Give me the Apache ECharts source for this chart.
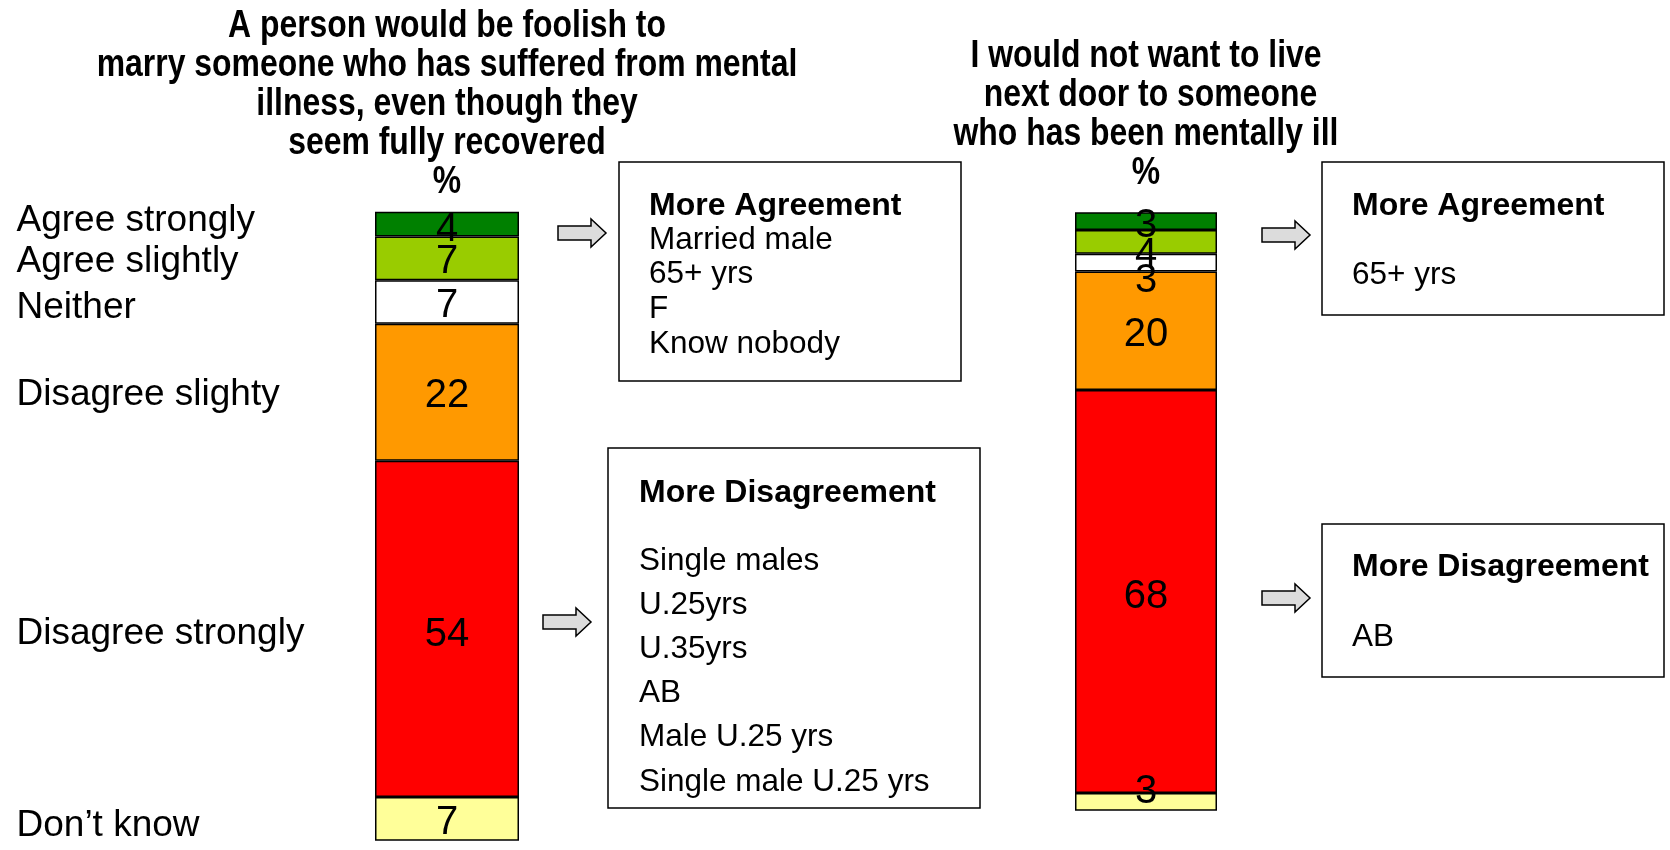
<!DOCTYPE html>
<html>
<head>
<meta charset="utf-8">
<script src="https://cdn.jsdelivr.net/npm/echarts@6/dist/echarts.min.js"></script>
<style>
  html, body { margin: 0; padding: 0; background: #fff; }
  #chart { width: 1670px; height: 850px; }
</style>
</head>
<body>
<div id="chart"></div>
<script>
// answer scale, top to bottom
const responses = ['Agree strongly', 'Agree slightly', 'Neither', 'Disagree slighty', 'Disagree strongly', 'Don\u2019t know']
const marryValues = [4, 7, 7, 22, 54, 7]
const neighbourValues = [3, 4, 3, 20, 68, 3]
const segmentColors = ['#008000', '#99cc00', '#ffffff', '#ff9900', '#ff0000', '#ffff99']

const marryTitle = ['A person would be foolish to', 'marry someone who has suffered from mental', 'illness, even though they', 'seem fully recovered', '%']
const neighbourTitle = ['I would not want to live', ' next door to someone', 'who has been mentally ill', '%']

const marryAgree = ['Married male', '65+ yrs', 'F', 'Know nobody']
const marryDisagree = ['Single males', 'U.25yrs', 'U.35yrs', 'AB', 'Male U.25 yrs', 'Single male U.25 yrs']
const neighbourAgree = ['65+ yrs']
const neighbourDisagree = ['AB']

// small label nudges where the original had them pushed apart
const marryNudge = [2, 0, 0, 0, 2, 0]
const neighbourNudge = [1, 9, 14, 0, 1, -14]
const rowNudge = [-3, 4, 6, 3, 5, 7]

const FONT = '"Liberation Sans", Arial, Helvetica, sans-serif'
const sum = arr => arr.reduce((a, b) => a + b, 0)

const chart = echarts.init(document.getElementById('chart'))

const stackSeries = (values, nudges, idx, stack) =>
  values.map((v, i) => ({
    name: responses[i],
    type: 'bar',
    stack: stack,
    xAxisIndex: idx,
    yAxisIndex: idx,
    barWidth: '100%',
    data: [v],
    itemStyle: { color: segmentColors[i], borderColor: '#000', borderWidth: 1.5 },
    label: {
      show: true,
      position: 'inside',
      color: '#000',
      fontFamily: FONT,
      fontSize: 40,
      offset: [0, 4 + nudges[i]]
    }
  }))

// midpoints of the first bar's segments, used to line up the answer labels
let run = 0
const rowMids = marryValues.map(v => { const m = run + v / 2; run += v; return m })

const rowLabelSeries = {
  type: 'scatter',
  xAxisIndex: 0,
  yAxisIndex: 0,
  symbolSize: 1,
  itemStyle: { color: '#000', opacity: 0 },
  data: rowMids.map((m, i) => ({
    value: [0, m],
    label: { offset: [0, rowNudge[i]] }
  })),
  label: {
    show: true,
    position: [-430, 0],
    align: 'left',
    verticalAlign: 'middle',
    color: '#000000',
    opacity: 1,
    textBorderWidth: 0,
    fontFamily: FONT,
    fontSize: 37,
    formatter: p => responses[p.dataIndex]
  },
  emphasis: { disabled: true },
  z: 5
}

const arrow = (x0, cy) => ({
  type: 'polygon',
  shape: {
    points: [[x0, cy - 7], [x0 + 33, cy - 7], [x0 + 33, cy - 14], [x0 + 48, cy],
      [x0 + 33, cy + 14], [x0 + 33, cy + 7], [x0, cy + 7]]
  },
  style: { fill: '#dcdcdc', stroke: '#000', lineWidth: 1.5 }
})

const box = (x, y, w, h) => ({
  type: 'rect',
  shape: { x: x, y: y, width: w, height: h },
  style: { fill: '#fff', stroke: '#000', lineWidth: 1.5 }
})

const text = (x, y, str, bold, size) => ({
  type: 'text',
  x: x,
  y: y,
  style: {
    text: str,
    font: (bold ? 'bold ' : '') + size + 'px ' + FONT,
    fill: '#000',
    textAlign: 'left',
    textVerticalAlign: 'middle'
  }
})

const titleText = (cx, top, lines) => ({
  type: 'text',
  x: cx,
  y: top,
  scaleX: 0.84,
  style: {
    text: lines.join('\n'),
    font: 'bold 38px ' + FONT,
    lineHeight: 39,
    fill: '#000',
    textAlign: 'center',
    textVerticalAlign: 'top'
  }
})

const graphics = [
  titleText(447, 7, marryTitle),
  titleText(1146, 37, neighbourTitle),

  arrow(558, 233),
  arrow(543, 622),
  arrow(1262, 235),
  arrow(1262, 598),

  box(619, 162, 342, 219),
  text(649, 206, 'More Agreement', true, 32),
  ...marryAgree.map((s, i) => text(649, 240 + i * 34.8, s, false, 31.5)),

  box(608, 448, 372, 360),
  text(639, 493, 'More Disagreement', true, 32),
  ...marryDisagree.map((s, i) => text(639, 561 + i * 44.2, s, false, 31.5)),

  box(1322, 162, 342, 153),
  text(1352, 206, 'More Agreement', true, 32),
  ...neighbourAgree.map((s, i) => text(1352, 275 + i * 44, s, false, 31.5)),

  box(1322, 524, 342, 153),
  text(1352, 567, 'More Disagreement', true, 32),
  ...neighbourDisagree.map((s, i) => text(1352, 637 + i * 44, s, false, 31.5))
]

const option = {
  animation: false,
  backgroundColor: '#fff',
  grid: [
    { left: 375, top: 211.7, width: 144, height: 629 },
    { left: 1075, top: 212.3, width: 142, height: 598.4 }
  ],
  xAxis: [
    { type: 'category', gridIndex: 0, data: ['%'], show: false },
    { type: 'category', gridIndex: 1, data: ['%'], show: false }
  ],
  yAxis: [
    { type: 'value', gridIndex: 0, min: 0, max: sum(marryValues), inverse: true, show: false },
    { type: 'value', gridIndex: 1, min: 0, max: sum(neighbourValues), inverse: true, show: false }
  ],
  series: [
    ...stackSeries(marryValues, marryNudge, 0, 'marry'),
    ...stackSeries(neighbourValues, neighbourNudge, 1, 'neighbour'),
    rowLabelSeries
  ],
  graphic: graphics
}

chart.setOption(option)
window.addEventListener('resize', () => chart.resize())
</script>
</body>
</html>
